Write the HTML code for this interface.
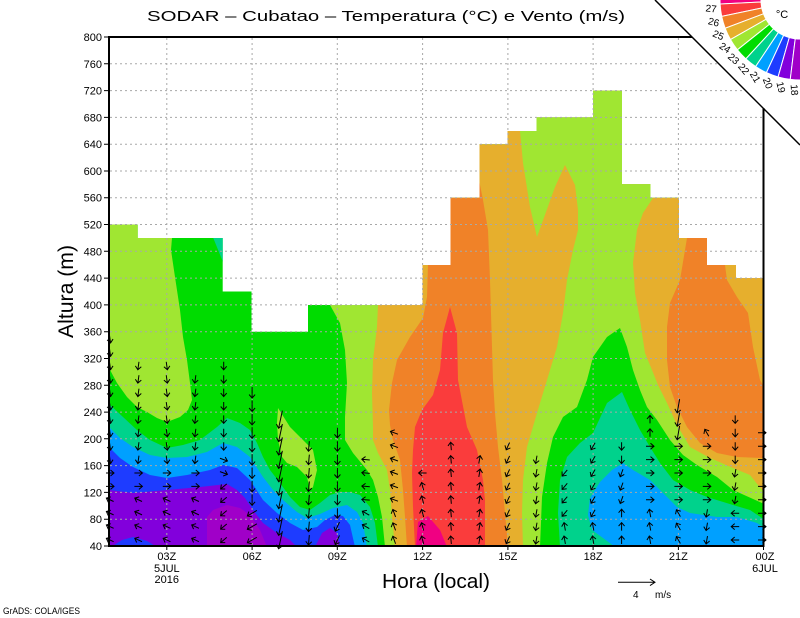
<!DOCTYPE html>
<html><head><meta charset="utf-8"><style>
html,body{margin:0;padding:0;background:#fff;}
svg{display:block;}
text{font-family:"Liberation Sans",sans-serif;fill:#000;}
</style></head><body>
<svg xmlns="http://www.w3.org/2000/svg" width="800" height="618" viewBox="0 0 800 618">
<defs>
<clipPath id="mask"><polygon points="109,224.5 137.7,224.5 137.7,238 222.7,238 222.7,291.5 251.5,291.5 251.5,331.7 308,331.7 308,305 422.5,305 422.5,265 450.5,265 450.5,197.7 479.5,197.7 479.5,144.2 507.5,144.2 507.5,131 536.5,131 536.5,117.4 593,117.4 593,90.6 622,90.6 622,184.3 650.5,184.3 650.5,197.7 679,197.7 679,238 707,238 707,265 736,265 736,278 764,278 764,546 109,546"/></clipPath>
</defs>
<rect width="800" height="618" fill="#fff"/>
<g clip-path="url(#mask)">
<rect x="100" y="80" width="680" height="480" fill="#00dc00"/>
<polygon fill="#a0e632" points="109,200 172,200 172,238 171,250 175,277 180,310 183,337 187,360 190,383 192,400 188,410 180,417 167,422 157,418 147,412 137,407 127,397 117,383 109,368"/>
<polygon fill="#00d28c" points="210,230 223,230 223,262"/>
<polygon fill="#a0e632" points="278,408 290,427 300,437 313,450 317,470 313,487 310,490 307,477 297,467 287,463 282,457 278,440 277,423"/>
<polygon fill="#a0e632" points="330,280 330,305 340,323 345,350 347,383 345,417 345,440 353,453 367,470 373,480 378,497 382,517 385,547 770,547 770,80 330,80"/>
<polygon fill="#e6af2d" points="378,280 378,305 377,327 373,360 372,393 373,427 373,440 378,453 387,470 390,490 392,517 395,547 770,547 770,80 378,80"/>
<polygon fill="#f08228" points="428,100 479,100 479,180 483,200 488,230 490,280 492,347 493,380 495,413 498,447 502,480 505,513 508,547 407,547 405,517 403,490 400,460 393,440 390,425 389,410 392,383 397,360 410,337 423,318 427,297 428,265"/>
<polygon fill="#a0e632" points="520,80 653,80 653,198 643,213 637,230 633,263 635,293 640,320 645,353 652,370 658,385 667,403 677,425 690,447 710,458 733,468 750,475 762,490 770,490 770,547 523,547 522,513 523,480 527,447 537,413 547,380 557,347 563,313 567,280 573,250 578,230 578,210 575,185 565,165 555,187 537,237 530,207 523,163 520,131"/>
<polygon fill="#f08228" points="687,230 707,230 707,265 725,265 727,280 737,297 748,313 753,347 760,380 770,397 770,458 762,458 737,457 717,453 700,443 687,427 677,407 670,387 667,360 667,327 670,303 680,280 687,238"/>
<polygon fill="#00dc00" points="620,328 627,347 633,370 640,390 647,407 657,420 670,440 683,455 697,465 717,477 733,490 762,503 770,505 770,547 540,547 542,497 547,463 553,437 563,417 577,407 587,380 593,357 607,337"/>
<polygon fill="#00d28c" points="622,392 630,410 640,430 650,447 660,463 673,480 690,490 707,497 733,505 750,510 762,518 770,520 770,547 560,547 558,513 560,480 567,457 580,443 593,433 607,403"/>
<polygon fill="#00a0ff" points="612,470 623,463 633,470 650,480 663,493 677,507 690,513 717,517 737,517 757,523 770,532 770,547 615,547 603,538 592,530 588,515 590,498 600,482"/>
<polygon fill="#fa3c3c" points="450,307 443,333 440,370 433,395 422,410 415,427 413,450 412,473 413,507 415,547 485,547 485,500 483,480 477,450 467,427 458,380 457,333"/>
<polygon fill="#f00082" points="416,547 418,522 428,516 440,530 447,547"/>
<polygon fill="#00d28c" points="109,404 123,417 137,430 150,440 167,448 183,445 200,440 217,427 227,418 240,423 250,430 257,443 263,457 270,470 280,483 290,497 300,507 310,510 320,503 330,495 340,492 350,492 360,495 370,507 375,523 378,547 105,547 105,404"/>
<polygon fill="#00a0ff" points="109,427 120,438 133,447 150,455 167,458 187,457 207,452 223,443 237,447 250,457 263,477 273,490 283,500 297,512 307,518 320,514 333,508 347,505 357,512 363,523 367,547 105,547 105,427"/>
<polygon fill="#1e3cff" points="109,447 120,458 133,467 150,475 167,478 187,475 210,470 223,465 237,468 250,480 263,500 277,513 290,523 303,530 317,527 325,520 335,515 343,516 350,525 355,547 105,547 105,447"/>
<polygon fill="#8200dc" points="109,490 133,493 167,490 200,487 227,484 237,490 245,498 253,510 263,523 277,533 290,540 297,547 105,547 105,490"/>
<polygon fill="#8200dc" points="315,547 322,533 330,528 337,533 340,547"/>
<polygon fill="#1e3cff" points="111,547 122,540 133,537 147,541 157,547"/>
<polygon fill="#a000c8" points="207,547 207,517 213,510 227,505 240,508 250,515 260,530 267,547"/>
</g>
<!-- grid -->
<g stroke="#a8a8a8" stroke-width="1" stroke-dasharray="2,3" fill="none">
<path d="M110,519.2H763M110,492.4H763M110,465.6H763M110,438.8H763M110,412.1H763M110,385.3H763M110,358.5H763M110,331.7H763M110,304.9H763M110,278.1H763M110,251.3H763M110,224.5H763M110,197.7H763M110,171H763M110,144.2H763M110,117.4H763M110,90.6H763M110,63.8H763"/>
<path d="M166.8,38V545M252.1,38V545M337.3,38V545M422.6,38V545M507.9,38V545M593.1,38V545M678.4,38V545"/>
</g>
<!-- wind arrows -->
<g id="arrows" stroke="#000" stroke-width="1" fill="none"></g>
<!-- corner cut -->
<polygon points="655,0 800,145 800,0" fill="#fff"/>
<!-- frame -->
<path d="M692,37 L109,37 L109,546 L763.5,546 L763.5,108" stroke="#000" stroke-width="2" fill="none"/>
<line x1="655" y1="0" x2="800" y2="145" stroke="#000" stroke-width="1.5"/>
<!-- ticks -->
<g stroke="#000" stroke-width="1">
<path d="M104,546H109M104,519.2H109M104,492.4H109M104,465.6H109M104,438.8H109M104,412.1H109M104,385.3H109M104,358.5H109M104,331.7H109M104,304.9H109M104,278.1H109M104,251.3H109M104,224.5H109M104,197.7H109M104,171H109M104,144.2H109M104,117.4H109M104,90.6H109M104,63.8H109M104,37H109"/>
<path d="M166.8,546V550M252.1,546V550M337.3,546V550M422.6,546V550M507.9,546V550M593.1,546V550M678.4,546V550M763.5,546V550"/>
</g>
<!-- y labels -->
<g font-size="11" text-anchor="end">
<text x="102" y="550">40</text><text x="102" y="523.2">80</text><text x="102" y="496.4">120</text><text x="102" y="469.6">160</text><text x="102" y="442.8">200</text><text x="102" y="416.1">240</text><text x="102" y="389.3">280</text><text x="102" y="362.5">320</text><text x="102" y="335.7">360</text><text x="102" y="308.9">400</text><text x="102" y="282.1">440</text><text x="102" y="255.3">480</text><text x="102" y="228.5">520</text><text x="102" y="201.7">560</text><text x="102" y="175">600</text><text x="102" y="148.2">640</text><text x="102" y="121.4">680</text><text x="102" y="94.6">720</text><text x="102" y="67.8">760</text><text x="102" y="41">800</text>
</g>
<!-- x labels -->
<g font-size="11" text-anchor="middle">
<text x="166.8" y="560">03Z</text><text x="166.8" y="572">5JUL</text><text x="166.8" y="583">2016</text>
<text x="252.1" y="560">06Z</text><text x="337.3" y="560">09Z</text><text x="422.6" y="560">12Z</text><text x="507.9" y="560">15Z</text><text x="593.1" y="560">18Z</text><text x="678.4" y="560">21Z</text>
<text x="765" y="560">00Z</text><text x="765" y="572">6JUL</text>
</g>
<!-- titles -->
<text x="147" y="21" font-size="15" textLength="478" lengthAdjust="spacingAndGlyphs">SODAR  –  Cubatao  –  Temperatura (°C) e Vento (m/s)</text>
<text x="382" y="588" font-size="20" textLength="108" lengthAdjust="spacingAndGlyphs">Hora (local)</text>
<text transform="translate(73,291.5) rotate(-90)" text-anchor="middle" font-size="21" textLength="93" lengthAdjust="spacingAndGlyphs">Altura (m)</text>
<text x="3" y="614" font-size="9" textLength="77" lengthAdjust="spacingAndGlyphs">GrADS: COLA/IGES</text>
<!-- reference vector -->
<path d="M618,582.3H655M650,579L655,582.3L650,585.6" stroke="#000" stroke-width="1" fill="none"/>
<text x="633" y="598" font-size="10">4</text>
<text x="655" y="598" font-size="10">m/s</text>
<!-- legend -->
<g stroke="#fff" stroke-width="1">
<path fill="#f00082" d="M720.44,-8.36 A80,80 0 0 0 720.10,4.05 L761.05,1.97 A39,39 0 0 1 761.21,-4.08Z"/>
<path fill="#fa3c3c" d="M720.10,4.05 A80,80 0 0 0 721.69,16.36 L761.82,7.98 A39,39 0 0 1 761.05,1.97Z"/>
<path fill="#f08228" d="M721.69,16.36 A80,80 0 0 0 725.16,28.28 L763.52,13.79 A39,39 0 0 1 761.82,7.98Z"/>
<path fill="#e6af2d" d="M725.16,28.28 A80,80 0 0 0 730.44,39.52 L766.09,19.26 A39,39 0 0 1 763.52,13.79Z"/>
<path fill="#a0e632" d="M730.44,39.52 A80,80 0 0 0 737.39,49.80 L769.48,24.28 A39,39 0 0 1 766.09,19.26Z"/>
<path fill="#00dc00" d="M737.39,49.80 A80,80 0 0 0 745.85,58.89 L773.60,28.71 A39,39 0 0 1 769.48,24.28Z"/>
<path fill="#00d28c" d="M745.85,58.89 A80,80 0 0 0 755.61,66.56 L778.36,32.45 A39,39 0 0 1 773.60,28.71Z"/>
<path fill="#00a0ff" d="M755.61,66.56 A80,80 0 0 0 766.44,72.62 L783.64,35.40 A39,39 0 0 1 778.36,32.45Z"/>
<path fill="#1e3cff" d="M766.44,72.62 A80,80 0 0 0 778.08,76.94 L789.32,37.51 A39,39 0 0 1 783.64,35.40Z"/>
<path fill="#8200dc" d="M778.08,76.94 A80,80 0 0 0 790.25,79.40 L795.25,38.71 A39,39 0 0 1 789.32,37.51Z"/>
<path fill="#a000c8" d="M790.25,79.40 A80,80 0 0 0 802.65,79.96 L801.29,38.98 A39,39 0 0 1 795.25,38.71Z"/>
</g>
<g font-size="10" text-anchor="middle" dominant-baseline="central">
<text transform="translate(711,9.5) rotate(5.9)">27</text>
<text transform="translate(713.5,23) rotate(14.8)">26</text>
<text transform="translate(718,36) rotate(23.7)">25</text>
<text transform="translate(724.5,48.5) rotate(32.6)">24</text>
<text transform="translate(733,59.5) rotate(41.5)">23</text>
<text transform="translate(743,69.5) rotate(50.4)">22</text>
<text transform="translate(754.5,77.5) rotate(59.3)">21</text>
<text transform="translate(767,83.5) rotate(68.2)">20</text>
<text transform="translate(780,87.5) rotate(77.1)">19</text>
<text transform="translate(793.5,90) rotate(86)">18</text>
</g>
<text x="782" y="18" font-size="11" text-anchor="middle">°C</text>
</svg>
<script>
(function(){
var tops=[335,358,365,370,355,385,410,440,420,450,420,465,435,455,445,455,460,440,445,410,400,420,410,420];
function ang(c,y){
 if(c<=3){ if(y<462) return (c%2?8:-8); if(y<488) return -90; return 115;}
 if(c==4){ if(y<455) return 0; if(y<482) return -70; return 50;}
 if(c==5) return y>505?60:0;
 if(c==6) return 12;
 if(c==7) return 5;
 if(c==8) return y>520?25:0;
 if(c==9) return y>500?120:95;
 if(c==10) return y>500?160:110;
 if(c==11) return y<480?90:165;
 if(c==12) return 175;
 if(c==13) return 190;
 if(c==14) return 25;
 if(c==15) return 10;
 if(c==16) return y>520?170:40;
 if(c==17) return y>520?170:30;
 if(c==18) return y<470?0:(y<505?20:180);
 if(c==19) return y<440?180:(y<505?-90:170);
 if(c==20) return y<440?10:(y<510?-90:150);
 if(c==21) return y<440?150:(y<510?-90:10);
 if(c==22) return y<470?0:(y<510?10:90);
 return -90;
}
function len(c,y){ if(c==6) return 18; if(c==20&&y<440) return 14; if(c==5) return 11; if(c==7||c==8) return 10; return 8;}
var s='';
for(var c=0;c<24;c++){
 var x=110+28.42*c;
 if(c==23) x=762;
 for(var y=540;y>=tops[c];y-=13.4){
  var a=ang(c,y), L=len(c,y), h=L/2;
  s+='<path transform="translate('+x.toFixed(1)+','+y.toFixed(1)+') rotate('+a+')" d="M0,'+(-h)+'L0,'+h+'M-3,'+(h-3.5)+'L0,'+h+'L3,'+(h-3.5)+'"/>';
 }
}
document.getElementById('arrows').innerHTML=s;
})();
</script>
</body></html>
